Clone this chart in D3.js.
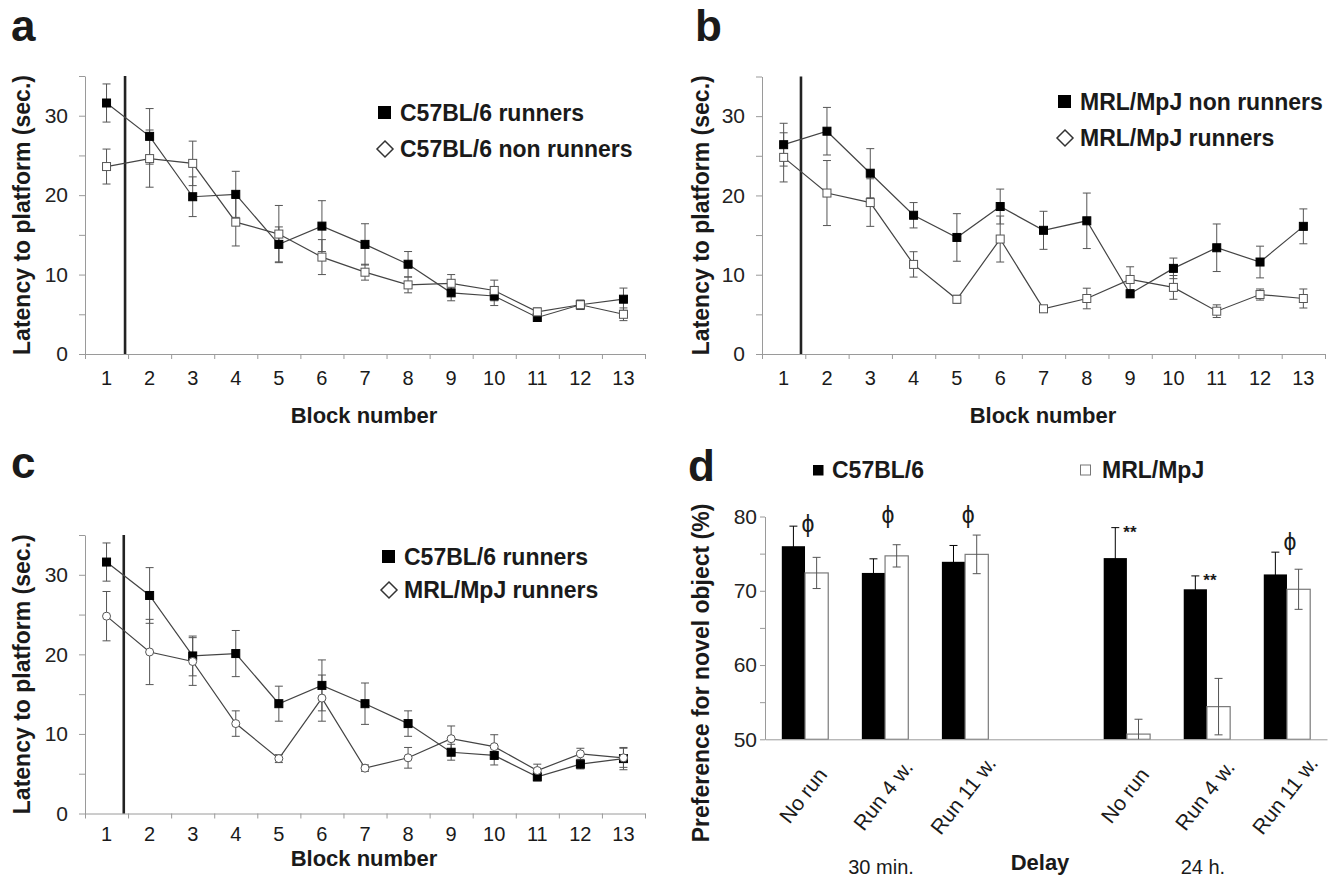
<!DOCTYPE html>
<html>
<head>
<meta charset="utf-8">
<script src="https://cdn.jsdelivr.net/npm/d3@7"></script>
<style>
  body { margin: 0; background: #fff; }
  svg { display: block; }
  text { font-family: "Liberation Sans", Arial, sans-serif; fill: #1a1a1a; }
</style>
</head>
<body>
<script>

// ---- data ----
var blocks = [1, 2, 3, 4, 5, 6, 7, 8, 9, 10, 11, 12, 13];
var yTicksLatency = [0, 5, 10, 15, 20, 25, 30, 35];

var c57Runners    = [31.6, 27.4, 19.8, 20.1, 13.8, 16.1, 13.8, 11.3, 7.7, 7.3, 4.6, 6.2, 6.9];
var c57RunnersErr = [2.4, 3.5, 2.5, 2.9, 2.2, 3.2, 2.6, 1.6, 1.0, 1.2, 0.5, 0.6, 1.4];

var c57NonRunners    = [23.6, 24.6, 24.0, 16.6, 15.1, 12.2, 10.3, 8.7, 8.9, 8.0, 5.3, 6.2, 5.0];
var c57NonRunnersErr = [2.2, 3.6, 2.8, 3.0, 3.6, 2.2, 1.0, 1.0, 1.1, 1.3, 0.5, 0.5, 0.8];

var mrlNonRunners    = [26.4, 28.1, 22.8, 17.5, 14.7, 18.6, 15.6, 16.8, 7.6, 10.8, 13.4, 11.6, 16.1];
var mrlNonRunnersErr = [2.7, 3.0, 3.1, 1.6, 3.0, 2.2, 2.4, 3.5, 0.5, 1.3, 3.0, 2.0, 2.2];

var mrlRunners    = [24.8, 20.3, 19.1, 11.3, 6.9, 14.5, 5.7, 7.0, 9.4, 8.4, 5.4, 7.5, 7.0];
var mrlRunnersErr = [3.1, 4.1, 3.0, 1.6, 0.5, 2.9, 0.4, 1.3, 1.6, 1.5, 0.8, 0.7, 1.2];

var delays = ["30 min.", "24 h."];
var conditions = ["No run", "Run 4 w.", "Run 11 w."];
var yTicksPref = [50, 55, 60, 65, 70, 75, 80];
var prefC57    = [76.0, 72.4, 73.9, 74.4, 70.2, 72.2];
var prefC57Err = [2.7, 1.9, 2.2, 4.1, 1.8, 3.0];
var prefMRL    = [72.4, 74.7, 74.9, 50.7, 54.4, 70.2];
var prefMRLErr = [2.1, 1.5, 2.6, 2.0, 3.8, 2.7];
var sigMarks = ["\u03D5", "\u03D5", "\u03D5", "**", "**", "\u03D5"];
var sigLevel = [79.0, 80.2, 80.2, 78.5, 72.0, 76.6];

// ---- drawing ----
var svg = d3.select("body").append("svg")
  .attr("width", 1339)
  .attr("height", 878);

var axisGray = "#9a9a9a";

function styleAxis(sel, size) {
  sel.selectAll("path, line").attr("stroke", axisGray);
  sel.selectAll("text").attr("font-size", size).style("fill", "#222");
}

function linePanel(p) {
  var x = d3.scaleLinear().domain([0.5, 13.5]).range([p.x0, p.x1]);
  var y = d3.scaleLinear().domain([0, 35]).range([p.yBottom, p.yTop]);
  var g = svg.append("g");

  // y axis
  var ya = g.append("g")
    .attr("transform", "translate(" + p.x0 + ",0)")
    .call(d3.axisLeft(y).tickValues(yTicksLatency).tickSize(6).tickSizeOuter(0)
      .tickPadding(11).tickFormat(function (d) { return d % 10 ? "" : d; }));
  styleAxis(ya, 21);

  // x axis: ticks at block boundaries, labels at blocks
  var bounds = [0.5].concat(blocks.map(function (b) { return b + 0.5; }));
  var xa = g.append("g")
    .attr("transform", "translate(0," + p.yBottom + ")")
    .call(d3.axisBottom(x).tickValues(bounds).tickSize(5).tickSizeOuter(0).tickFormat(""));
  styleAxis(xa, 20);

  g.selectAll(".xl").data(blocks).enter().append("text")
    .attr("x", function (d) { return x(d); })
    .attr("y", p.xLabelY)
    .attr("text-anchor", "middle")
    .attr("font-size", 20)
    .text(function (d) { return d; });

  // training / probe divider
  g.append("line")
    .attr("x1", x(p.split)).attr("x2", x(p.split))
    .attr("y1", y(35)).attr("y2", y(0))
    .attr("stroke", "#222").attr("stroke-width", 2.6);

  p.series.forEach(function (s) {
    var line = d3.line()
      .x(function (d, i) { return x(blocks[i]); })
      .y(function (d) { return y(d); });
    g.append("path").datum(s.vals)
      .attr("d", line).attr("fill", "none")
      .attr("stroke", "#444").attr("stroke-width", 1.2);
  });

  p.series.forEach(function (s) {
    var eb = g.append("g").attr("stroke", "#555").attr("stroke-width", 1);
    s.vals.forEach(function (v, i) {
      var cx = x(blocks[i]), hi = y(v + s.err[i]), lo = y(v - s.err[i]);
      eb.append("line").attr("x1", cx).attr("x2", cx).attr("y1", hi).attr("y2", lo);
      eb.append("line").attr("x1", cx - 4).attr("x2", cx + 4).attr("y1", hi).attr("y2", hi);
      eb.append("line").attr("x1", cx - 4).attr("x2", cx + 4).attr("y1", lo).attr("y2", lo);
    });
  });

  p.series.forEach(function (s) {
    var pts = g.selectAll(null).data(s.vals).enter();
    if (s.shape === "circle") {
      pts.append("circle")
        .attr("cx", function (d, i) { return x(blocks[i]); })
        .attr("cy", function (d) { return y(d); })
        .attr("r", 4)
        .attr("fill", s.filled ? "#000" : "#fff")
        .attr("stroke", s.filled ? "#000" : "#555");
    } else {
      pts.append("rect")
        .attr("x", function (d, i) { return x(blocks[i]) - 4; })
        .attr("y", function (d) { return y(d) - 4; })
        .attr("width", 8).attr("height", 8)
        .attr("fill", s.filled ? "#000" : "#fff")
        .attr("stroke", s.filled ? "#000" : "#555");
    }
  });

  // legend
  p.series.forEach(function (s, k) {
    var ly = p.legY + k * p.legGap, lx = p.legX;
    if (s.filled) {
      g.append("rect").attr("x", lx - 7).attr("y", ly - 7).attr("width", 13).attr("height", 13).attr("fill", "#000");
    } else {
      g.append("path")
        .attr("d", "M" + lx + "," + (ly - 8) + "L" + (lx + 8) + "," + ly + "L" + lx + "," + (ly + 8) + "L" + (lx - 8) + "," + ly + "Z")
        .attr("fill", "#fff").attr("stroke", "#333").attr("stroke-width", 1.5);
    }
    g.append("text")
      .attr("x", lx + 15).attr("y", ly)
      .attr("dy", "0.36em")
      .attr("font-size", 23).attr("font-weight", "bold")
      .text(s.name);
  });

  // titles
  g.append("text")
    .attr("transform", "translate(" + p.yTitleX + "," + (p.yTop + p.yBottom) / 2 + ") rotate(-90)")
    .attr("text-anchor", "middle").attr("font-size", 23).attr("font-weight", "bold")
    .text("Latency to platform (sec.)");
  g.append("text")
    .attr("x", p.xTitleX).attr("y", p.xTitleY)
    .attr("text-anchor", "middle").attr("font-size", 22).attr("font-weight", "bold")
    .text("Block number");
  g.append("text")
    .attr("x", p.letterX).attr("y", p.letterY)
    .attr("font-size", 44).attr("font-weight", "bold")
    .text(p.letter);
}

linePanel({
  letter: "a", letterX: 11, letterY: 41,
  x0: 85, x1: 645, yTop: 76, yBottom: 354, split: 1.43,
  xLabelY: 385, xTitleX: 364, xTitleY: 423, yTitleX: 30,
  legX: 385, legY: 113, legGap: 36,
  series: [
    { name: "C57BL/6 runners", vals: c57Runners, err: c57RunnersErr, filled: true, shape: "square" },
    { name: "C57BL/6 non runners", vals: c57NonRunners, err: c57NonRunnersErr, filled: false, shape: "square" }
  ]
});

linePanel({
  letter: "b", letterX: 695, letterY: 41,
  x0: 762, x1: 1325, yTop: 76.5, yBottom: 354, split: 1.4,
  xLabelY: 385, xTitleX: 1043, xTitleY: 423, yTitleX: 709,
  legX: 1065, legY: 102, legGap: 36,
  series: [
    { name: "MRL/MpJ non runners", vals: mrlNonRunners, err: mrlNonRunnersErr, filled: true, shape: "square" },
    { name: "MRL/MpJ runners", vals: mrlRunners, err: mrlRunnersErr, filled: false, shape: "square" }
  ]
});

linePanel({
  letter: "c", letterX: 11, letterY: 478,
  x0: 85, x1: 645, yTop: 535, yBottom: 813.5, split: 1.4,
  xLabelY: 841, xTitleX: 364, xTitleY: 866, yTitleX: 30,
  legX: 389, legY: 557, legGap: 33,
  series: [
    { name: "C57BL/6 runners", vals: c57Runners, err: c57RunnersErr, filled: true, shape: "square" },
    { name: "MRL/MpJ runners", vals: mrlRunners, err: mrlRunnersErr, filled: false, shape: "circle" }
  ]
});

// ---- panel d: novel object preference ----
(function () {
  var g = svg.append("g");
  var y = d3.scaleLinear().domain([50, 80]).range([739.3, 516.5]);
  var x0 = d3.scaleBand().domain(delays).range([765, 1327]).paddingInner(0.254);
  var x1 = d3.scaleBand().domain(conditions).range([0, x0.bandwidth()]);
  var barW = x1.bandwidth() * 0.29;

  var rows = prefC57.map(function (v, i) {
    var d = delays[Math.floor(i / 3)], c = conditions[i % 3];
    return {
      center: x0(d) + x1(c) + x1.bandwidth() / 2,
      c57: v, c57Err: prefC57Err[i], mrl: prefMRL[i], mrlErr: prefMRLErr[i],
      cond: c, sig: sigMarks[i], sigY: sigLevel[i]
    };
  });

  var ya = g.append("g").attr("transform", "translate(765,0)")
    .call(d3.axisLeft(y).tickValues(yTicksPref).tickSize(5).tickSizeOuter(0)
      .tickPadding(3).tickFormat(function (d) { return d % 10 ? "" : d; }));
  styleAxis(ya, 21);

  // bars
  g.selectAll(".bf").data(rows).enter().append("rect")
    .attr("x", function (d) { return d.center - barW; })
    .attr("y", function (d) { return y(d.c57); })
    .attr("width", barW)
    .attr("height", function (d) { return y(50) - y(d.c57); })
    .attr("fill", "#000");
  g.selectAll(".bo").data(rows).enter().append("rect")
    .attr("x", function (d) { return d.center; })
    .attr("y", function (d) { return y(d.mrl); })
    .attr("width", barW)
    .attr("height", function (d) { return y(50) - y(d.mrl); })
    .attr("fill", "#fff").attr("stroke", "#7a7a7a").attr("stroke-width", 1.2);

  // error bars (no cap where the bar is cut by the axis)
  function errBar(cx, v, e, col) {
    var hi = y(v + e), lo = y(Math.max(50, v - e));
    g.append("line").attr("x1", cx).attr("x2", cx).attr("y1", hi).attr("y2", lo).attr("stroke", col);
    g.append("line").attr("x1", cx - 4).attr("x2", cx + 4).attr("y1", hi).attr("y2", hi).attr("stroke", col);
    if (v - e > 50) g.append("line").attr("x1", cx - 4).attr("x2", cx + 4).attr("y1", lo).attr("y2", lo).attr("stroke", col);
  }
  rows.forEach(function (d) {
    errBar(d.center - barW / 2, d.c57, d.c57Err, "#000");
    errBar(d.center + barW / 2, d.mrl, d.mrlErr, "#555");
  });

  // x axis line
  var xa = g.append("g").attr("transform", "translate(0," + y(50) + ")")
    .call(d3.axisBottom(x0).tickSize(0).tickSizeOuter(0).tickFormat(""));
  styleAxis(xa, 20);

  // significance marks
  g.selectAll(".sig").data(rows).enter().append("text")
    .attr("x", function (d) { return d.center + 3; })
    .attr("y", function (d) { return y(d.sigY); })
    .attr("dy", function (d) { return d.sig === "**" ? "0.62em" : "0.35em"; })
    .attr("text-anchor", "middle")
    .attr("font-size", function (d) { return d.sig === "**" ? 17 : 23; })
    .attr("font-weight", function (d) { return d.sig === "**" ? "bold" : "normal"; })
    .text(function (d) { return d.sig; });

  // rotated condition labels
  g.selectAll(".cl").data(rows).enter().append("text")
    .attr("transform", function (d) { return "translate(" + (d.center - 2) + "," + (y(50) + 56) + ") rotate(-52)"; })
    .attr("text-anchor", "middle").attr("dy", "0.35em")
    .attr("font-size", 21)
    .text(function (d) { return d.cond; });

  g.selectAll(".dl").data(delays).enter().append("text")
    .attr("x", function (d) { return x0(d) + x0.bandwidth() / 2 - 4; })
    .attr("y", 874)
    .attr("text-anchor", "middle").attr("font-size", 20)
    .text(function (d) { return d; });
  g.append("text").attr("x", 1040).attr("y", 870)
    .attr("text-anchor", "middle").attr("font-size", 22).attr("font-weight", "bold")
    .text("Delay");

  g.append("text")
    .attr("transform", "translate(709,673) rotate(-90)")
    .attr("text-anchor", "middle").attr("font-size", 23).attr("font-weight", "bold")
    .text("Preference for novel object (%)");

  // legend
  g.append("rect").attr("x", 813).attr("y", 465).attr("width", 10.5).attr("height", 10.5).attr("fill", "#000");
  g.append("text").attr("x", 832).attr("y", 470).attr("dy", "0.36em")
    .attr("font-size", 23).attr("font-weight", "bold").text("C57BL/6");
  g.append("rect").attr("x", 1080.5).attr("y", 465).attr("width", 10).attr("height", 10)
    .attr("fill", "#fff").attr("stroke", "#777");
  g.append("text").attr("x", 1102).attr("y", 470).attr("dy", "0.36em")
    .attr("font-size", 23).attr("font-weight", "bold").text("MRL/MpJ");

  g.append("text").attr("x", 688).attr("y", 481)
    .attr("font-size", 44).attr("font-weight", "bold").text("d");
})();

</script>
</body>
</html>
